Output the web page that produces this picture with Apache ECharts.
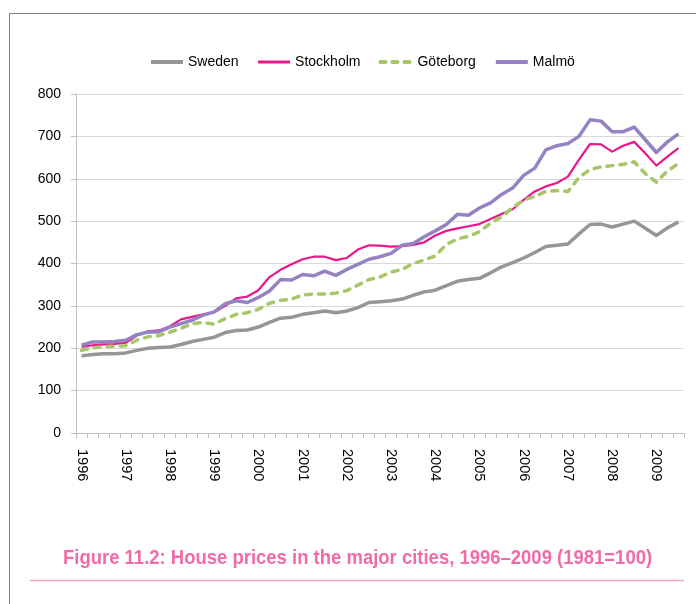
<!DOCTYPE html>
<html>
<head>
<meta charset="utf-8">
<script src="https://cdn.jsdelivr.net/npm/echarts@6/dist/echarts.min.js"></script>
<style>
  html, body { margin: 0; padding: 0; background: #ffffff; }
  #chart { width: 696px; height: 604px; }
</style>
</head>
<body>
<div id="chart"></div>
<script>
// House price index (1981=100), quarterly, 1996 Q1 – 2009 Q3
const years = ['1996','1997','1998','1999','2000','2001','2002','2003','2004','2005','2006','2007','2008','2009'];

const sweden = [182,185,187,187,189,195,200,202,203,209,216,221,226,237,242,243,250,261,271,273,
                280,284,288,284,288,296,308,310,312,316,325,333,337,348,358,362,365,378,392,402,
                413,426,440,443,446,470,492,493,486,493,500,483,466,484,498];

const stockholm = [203,207,209,210,213,230,240,242,252,268,274,280,285,300,318,322,337,368,385,398,
                   410,416,416,408,413,433,443,442,440,441,444,450,466,477,483,488,493,505,517,528,
                   550,570,582,590,605,645,682,681,664,678,687,660,631,652,672];

const goteborg = [195,201,204,205,206,219,227,230,238,247,258,261,257,270,280,284,292,306,313,316,
                  326,328,328,330,336,349,362,368,380,386,400,408,418,445,458,464,475,495,510,532,
                  550,558,570,572,570,603,622,628,631,634,640,612,592,618,636];

const malmo = [207,215,215,216,219,232,238,239,250,258,266,278,286,305,312,308,320,335,362,361,
               374,371,382,372,386,398,410,416,424,443,447,463,477,492,516,514,531,543,563,578,
               608,625,668,678,683,700,739,736,711,711,722,692,662,687,706];

// one category per quarter, labelled by year on the first quarter
const quarters = [];
years.forEach(y => { for (let q = 1; q <= 4; q++) quarters.push(y + ' Q' + q); });
quarters.length = sweden.length;

const FONT = '"Liberation Sans", Arial, sans-serif';

const COLORS = {
  sweden: '#969696',
  stockholm: '#e8178a',
  goteborg: '#a6c667',
  malmo: '#9582c2'
};

const chart = echarts.init(document.getElementById('chart'), null, { renderer: 'canvas' });

chart.setOption({
  backgroundColor: '#ffffff',
  animation: false,
  textStyle: { fontFamily: FONT },
  legend: {
    left: 149,
    top: 55,
    padding: 0,
    itemWidth: 32,
    itemHeight: 10,
    itemGap: 18,
    itemStyle: { opacity: 0 },
    textStyle: { fontSize: 14, color: '#000000', fontFamily: FONT },
    data: [
      { name: 'Sweden', lineStyle: { width: 4, color: COLORS.sweden } },
      { name: 'Stockholm', lineStyle: { width: 3, color: COLORS.stockholm } },
      { name: 'Göteborg', lineStyle: { width: 4, color: COLORS.goteborg, type: [5, 7], cap: 'round' } },
      { name: 'Malmö', lineStyle: { width: 4, color: COLORS.malmo } }
    ]
  },
  grid: {
    left: 76, right: 12, top: 94, bottom: 171,
    containLabel: false,
    outerBoundsMode: 'none'
  },
  xAxis: {
    type: 'category',
    data: quarters,
    boundaryGap: true,
    axisLine: { lineStyle: { color: '#bfbfbf', width: 1 } },
    axisTick: { show: true, interval: 0, length: 5, lineStyle: { color: '#bfbfbf' } },
    axisLabel: {
      interval: 3,
      rotate: -90,
      margin: 16,
      fontSize: 14.5,
      color: '#000000',
      fontFamily: FONT,
      formatter: v => v.slice(0, 4)
    },
    splitLine: { show: false }
  },
  yAxis: {
    type: 'value',
    min: 0, max: 800, interval: 100,
    axisLine: { show: true, lineStyle: { color: '#bfbfbf', width: 1 } },
    axisTick: { show: true, length: 5, lineStyle: { color: '#bfbfbf' } },
    axisLabel: { fontSize: 14, color: '#000000', margin: 15, fontFamily: FONT },
    splitLine: { show: true, lineStyle: { color: '#d9d9d9', width: 1 } }
  },
  series: [
    {
      name: 'Sweden', type: 'line', data: sweden, symbol: 'none',
      itemStyle: { color: COLORS.sweden },
      lineStyle: { color: COLORS.sweden, width: 3.5, join: 'round' }
    },
    {
      name: 'Stockholm', type: 'line', data: stockholm, symbol: 'none',
      itemStyle: { color: COLORS.stockholm },
      lineStyle: { color: COLORS.stockholm, width: 2.2, join: 'round' }
    },
    {
      name: 'Göteborg', type: 'line', data: goteborg, symbol: 'none',
      itemStyle: { color: COLORS.goteborg },
      lineStyle: { color: COLORS.goteborg, width: 3.5, type: [6, 7], cap: 'round', join: 'round' }
    },
    {
      name: 'Malmö', type: 'line', data: malmo, symbol: 'none',
      itemStyle: { color: COLORS.malmo },
      lineStyle: { color: COLORS.malmo, width: 3.5, join: 'round' }
    }
  ],
  graphic: [
    // outer frame (top and left edges)
    { type: 'polyline', shape: { points: [[9.5, 604], [9.5, 13.5], [696, 13.5]] },
      style: { stroke: '#7f7f7f', lineWidth: 1, fill: null }, silent: true },
    // caption, set in a condensed bold face
    { type: 'text', x: 63, y: 558, scaleX: 0.88,
      style: { text: 'Figure 11.2: House prices in the major cities, 1996–2009 (1981=100)',
               fill: '#f06ba8', fontSize: 21, fontWeight: 'bold',
               align: 'left', verticalAlign: 'middle', fontFamily: FONT } },
    // rule under the caption
    { type: 'line', shape: { x1: 30, y1: 580.5, x2: 684, y2: 580.5 },
      style: { stroke: '#f5a3c7', lineWidth: 1.5 }, silent: true }
  ]
});
</script>
</body>
</html>
